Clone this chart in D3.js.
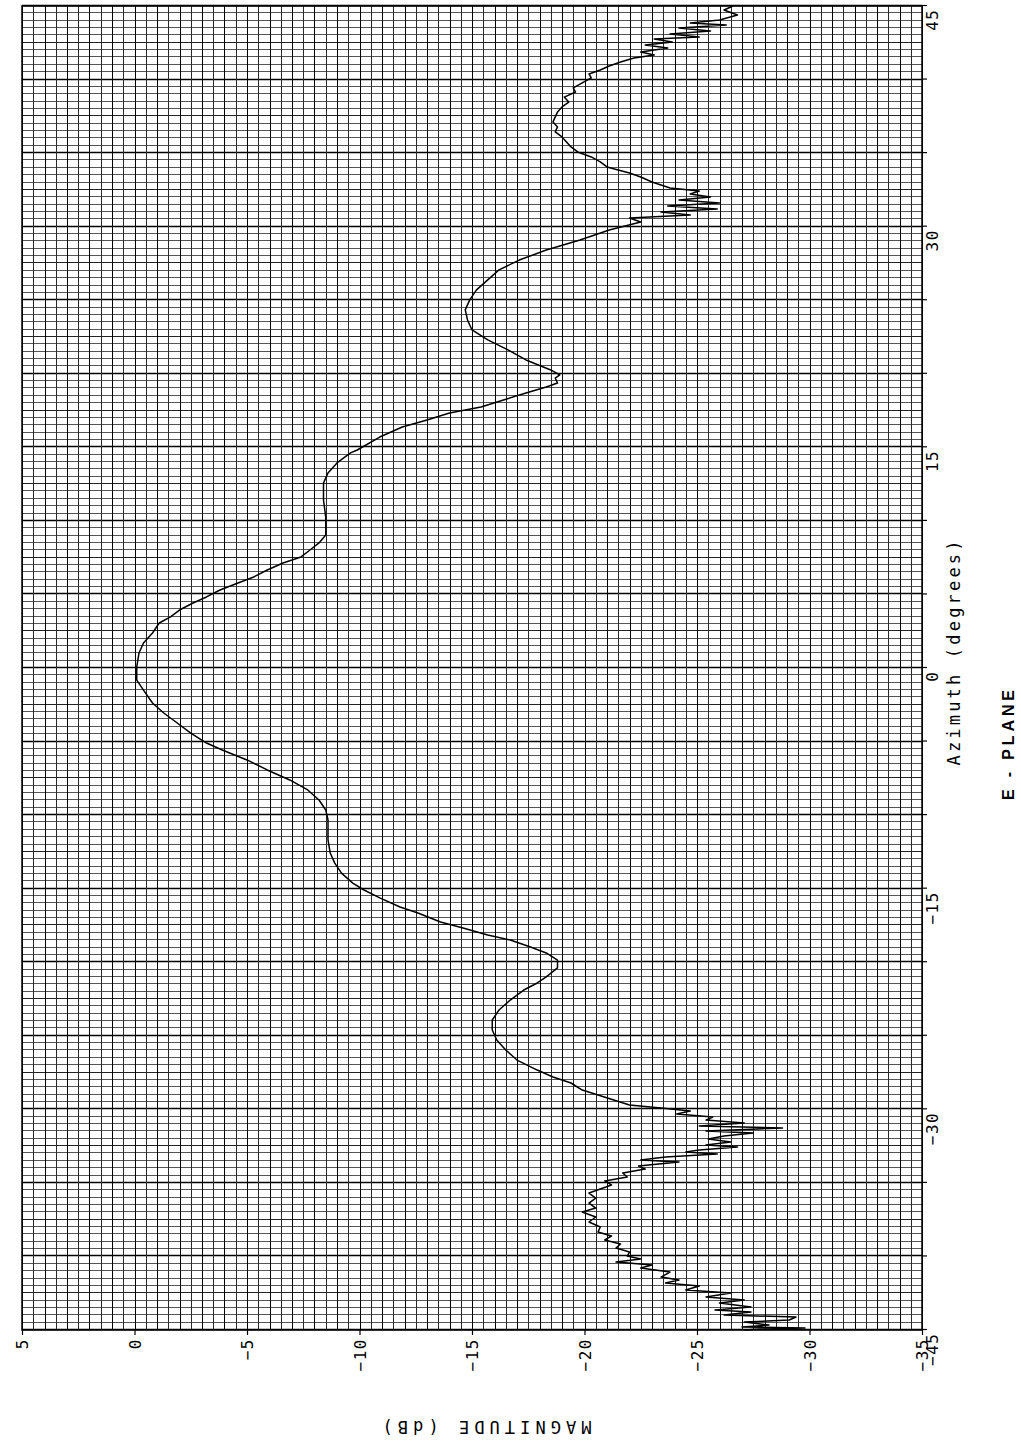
<!DOCTYPE html>
<html>
<head>
<meta charset="utf-8">
<script src="https://cdn.jsdelivr.net/npm/d3@7"></script>
<style>
  html, body { margin: 0; padding: 0; background: #fff; }
  svg { display: block; }
</style>
</head>
<body>
<svg id="chart" width="1021" height="1445"></svg>
<script>
// ---- data (azimuth in degrees, magnitude in dB) ----
const azimuth = [
  -45.00,-44.93,-44.86,-44.80,-44.66,-44.46,-44.32,-44.12,-43.98,-43.78,
  -43.64,-43.44,-43.17,-42.96,-42.76,-42.49,-42.28,-42.01,-41.81,-41.60,
  -41.40,-41.06,-40.79,-40.58,-40.38,-40.17,-39.97,-39.70,-39.43,-39.15,
  -38.88,-38.61,-38.34,-38.00,-37.66,-37.32,-36.98,-36.71,-36.37,-36.03,
  -35.69,-35.42,-35.14,-34.87,-34.60,-34.33,-34.06,-33.85,-33.58,-33.44,
  -33.24,-33.04,-32.90,-32.76,-32.56,-32.42,-32.22,-32.02,-31.81,-31.61,
  -31.47,-31.27,-31.13,-30.93,-30.73,-30.52,-30.32,-30.11,-29.91,-29.71,
  -29.37,-29.03,-28.69,-28.21,-27.80,-27.33,-26.65,-25.97,-25.29,-24.61,
  -23.93,-23.25,-22.57,-21.89,-21.41,-21.00,-20.39,-19.85,-19.37,-18.97,
  -18.49,-18.15,-17.67,-17.27,-16.65,-16.25,-15.63,-15.09,-14.62,-13.94,
  -13.26,-12.58,-11.69,-11.01,-10.33,-9.65,-8.97,-8.29,-7.61,-6.93,
  -6.25,-5.57,-5.10,-4.42,-3.74,-3.06,-2.38,-1.50,-0.82,0.07,
  1.02,1.70,2.38,3.06,3.47,3.94,4.42,4.83,5.30,5.78,
  6.19,6.66,7.14,7.55,8.02,8.50,9.04,10.26,11.42,12.58,
  13.26,13.94,14.62,14.82,15.70,16.38,16.86,17.33,17.74,18.22,
  18.69,19.10,19.37,19.71,19.92,20.26,20.94,21.62,22.30,22.98,
  23.66,24.34,25.02,25.70,26.38,27.06,27.73,28.41,29.09,29.77,
  30.32,30.59,30.79,31.00,31.20,31.41,31.61,31.81,32.02,32.22,
  32.43,32.63,33.04,33.38,33.65,34.06,34.40,34.74,35.08,35.42,
  35.76,36.10,36.44,36.78,37.12,37.46,37.79,38.14,38.47,38.81,
  39.15,39.43,39.77,40.11,40.38,40.65,40.92,41.19,41.47,41.67,
  41.87,42.15,42.35,42.55,42.76,42.89,43.10,43.30,43.51,43.71,
  43.85,44.05,44.39,44.73,45.00
];
const magnitude = [
  -27.1,-27.8,-29.8,-27.0,-28.2,-27.1,-29.1,-29.4,-26.2,-27.4,
  -25.8,-27.4,-26.0,-27.1,-25.4,-26.5,-24.5,-25.1,-23.6,-24.2,
  -23.4,-23.8,-22.5,-23.0,-21.4,-22.5,-21.9,-22.0,-21.4,-21.6,
  -20.9,-21.2,-20.6,-20.7,-20.2,-20.5,-19.9,-20.5,-20.2,-20.5,
  -20.2,-20.7,-21.2,-20.9,-21.9,-21.7,-22.7,-22.4,-24.2,-22.5,
  -23.6,-25.9,-24.5,-25.1,-26.8,-25.4,-26.5,-25.5,-26.2,-27.5,
  -25.4,-28.8,-25.1,-27.1,-25.4,-25.7,-24.1,-24.7,-23.4,-22.0,
  -21.3,-20.6,-19.9,-19.4,-18.6,-17.9,-17.0,-16.5,-16.1,-15.9,
  -15.9,-16.2,-16.7,-17.3,-17.9,-18.3,-18.8,-18.8,-18.3,-17.6,
  -16.7,-15.7,-14.6,-13.6,-12.6,-11.8,-10.9,-10.2,-9.7,-9.2,
  -8.9,-8.7,-8.6,-8.6,-8.6,-8.5,-8.2,-7.7,-6.9,-5.9,
  -5.0,-3.9,-3.2,-2.5,-1.9,-1.3,-0.8,-0.4,-0.1,-0.1,
  -0.2,-0.4,-0.8,-1.1,-1.6,-2.0,-2.6,-3.2,-3.8,-4.6,
  -5.3,-5.9,-6.6,-7.4,-7.8,-8.2,-8.5,-8.5,-8.4,-8.4,
  -8.6,-9.0,-9.6,-9.9,-10.9,-11.9,-13.0,-14.0,-15.4,-16.4,
  -17.4,-18.3,-18.8,-18.7,-18.9,-18.5,-17.4,-16.6,-15.7,-15.0,
  -14.8,-14.7,-14.9,-15.2,-15.7,-16.2,-17.1,-18.3,-19.8,-21.1,
  -22.5,-22.0,-24.7,-23.4,-25.9,-23.7,-26.0,-24.2,-25.6,-24.7,
  -25.1,-23.8,-23.0,-22.5,-22.0,-21.0,-20.7,-20.3,-19.7,-19.4,
  -19.2,-19.0,-18.7,-18.8,-18.6,-18.7,-18.8,-19.0,-19.3,-19.1,
  -19.6,-19.5,-19.9,-20.3,-20.2,-20.7,-21.1,-21.6,-22.2,-23.1,
  -22.5,-23.7,-22.7,-23.9,-23.1,-25.1,-23.8,-25.6,-24.2,-26.3,
  -24.7,-26.0,-26.8,-26.2,-26.6
];
const azimuthTickLabels = [-45, -30, -15, 0, 15, 30, 45];
const magnitudeTickLabels = [5, 0, -5, -10, -15, -20, -25, -30, -35];
const xTitle = "Azimuth (degrees)";
const yTitle = "MAGNITUDE  (dB)";
const subTitle = "E - PLANE";

// ---- layout: chart drawn in landscape, then rotated -90deg onto the page ----
const W = 1324, H = 900;
const originX = 22, originY = 1330;

const svg = d3.select("#chart");
svg.append("rect").attr("width", 1021).attr("height", 1445).attr("fill", "#fff");

const g = svg.append("g")
  .attr("transform", `translate(${originX},${originY}) rotate(-90)`);

const x = d3.scaleLinear().domain([-45, 45]).range([0, W]);
const y = d3.scaleLinear().domain([5, -35]).range([0, H]);
const px = v => Math.round(v) + 0.5;
const isMult = (d, m) => Math.abs(d / m - Math.round(d / m)) < 1e-6;

// grid
const grid = g.append("g");
const azLines = d3.range(-45, 45.01, 0.5);
grid.selectAll("line.az").data(azLines).join("line")
  .attr("class", "az")
  .attr("x1", d => px(x(d))).attr("x2", d => px(x(d)))
  .attr("y1", 0).attr("y2", H)
  .attr("stroke", d => (isMult(d, 5) ? "#000" : (isMult(d, 2.5) ? "#222" : "#555")))
  .attr("stroke-width", d => (isMult(d, 5) ? 1.5 : 1));
const magLines = d3.range(-35, 5.01, 0.5);
grid.selectAll("line.mag").data(magLines).join("line")
  .attr("class", "mag")
  .attr("y1", d => px(y(d))).attr("y2", d => px(y(d)))
  .attr("x1", 0).attr("x2", W)
  .attr("stroke", d => (isMult(d, 1) ? "#000" : "#2a2a2a"))
  .attr("stroke-width", 1);

// frame
g.append("rect").attr("x", 0).attr("y", 0).attr("width", W).attr("height", H)
  .attr("fill", "none").attr("stroke", "#000").attr("stroke-width", 1.5);

const fmt = d3.format("d");
const tickFont = "'DejaVu Sans Mono', 'Liberation Mono', monospace";

// azimuth axis (right side of the page)
const xAxis = g.append("g").attr("transform", `translate(0,${H})`)
  .call(d3.axisBottom(x).tickValues(d3.range(-45, 45.01, 5)).tickSize(5)
    .tickFormat(d => (azimuthTickLabels.includes(d) ? fmt(d) : "")));
xAxis.select(".domain").remove();
xAxis.selectAll(".tick line").attr("stroke", "#000").attr("stroke-width", 1.2);
xAxis.selectAll(".tick text")
  .attr("text-anchor", "end").attr("y", 10).attr("dy", "0.36em").attr("dx", -3)
  .attr("fill", "#000").style("font-family", tickFont).style("font-size", "16px")
  .style("letter-spacing", "1.5px");

// magnitude axis (bottom of the page)
const yAxis = g.append("g")
  .call(d3.axisLeft(y).tickValues(magnitudeTickLabels).tickSize(5).tickPadding(3).tickFormat(fmt));
yAxis.select(".domain").remove();
yAxis.selectAll(".tick line").attr("stroke", "#000").attr("stroke-width", 1.2);
yAxis.selectAll(".tick text")
  .attr("dy", "0.36em")
  .attr("fill", "#000").style("font-family", tickFont).style("font-size", "16px")
  .style("letter-spacing", "1.5px");

// curve
const pts = azimuth.map((a, i) => [a, magnitude[i]]);
g.append("path").datum(pts)
  .attr("fill", "none").attr("stroke", "#000").attr("stroke-width", 1.5)
  .attr("stroke-linejoin", "round")
  .attr("d", d3.line().x(d => x(d[0])).y(d => y(d[1])));

// titles
g.append("text")
  .attr("x", W / 2 + 15).attr("y", 938)
  .attr("text-anchor", "middle")
  .attr("textLength", 225).attr("lengthAdjust", "spacing")
  .style("font-family", tickFont).style("font-size", "17px").attr("fill", "#000")
  .text(xTitle);

g.append("text")
  .attr("x", 585).attr("y", 992)
  .attr("text-anchor", "middle")
  .attr("textLength", 110).attr("lengthAdjust", "spacing")
  .style("font-family", "'Liberation Sans', Arial, sans-serif").style("font-weight", "bold")
  .style("font-size", "16px").attr("fill", "#000")
  .text(subTitle);

g.append("text")
  .attr("transform", `translate(-91,${465})rotate(-90)`)
  .attr("text-anchor", "middle")
  .attr("textLength", 209).attr("lengthAdjust", "spacing")
  .style("font-family", tickFont).style("font-size", "17px").attr("fill", "#000")
  .text(yTitle);
</script>
</body>
</html>
